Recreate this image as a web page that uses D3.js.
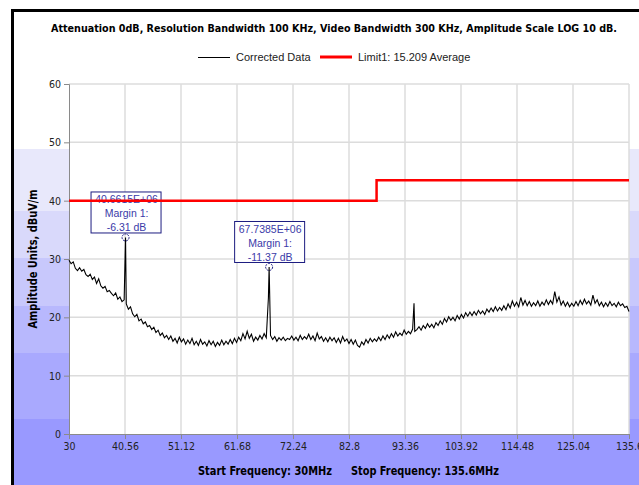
<!DOCTYPE html>
<html>
<head>
<meta charset="utf-8">
<script src="https://cdn.jsdelivr.net/npm/d3@7"></script>
<style>
  body { margin: 0; background: #fff; }
  svg { display: block; }
  .tick text { font-family: "DejaVu Sans Condensed", "DejaVu Sans", sans-serif; font-size: 10.5px; fill: #222; }
</style>
</head>
<body>
<div id="chart"></div>
<script>
// sweep settings and trace (dBuV/m), one value every 0.4 MHz from 30 to 135.6 MHz
const startFreq = 30
const stopFreq = 135.6
const sweepStep = 0.4
const correctedData = [
  29.8, 29.2, 29.5, 28.4, 28.0, 28.5, 27.9, 28.2, 27.3, 27.0,
  27.4, 26.5, 26.9, 25.8, 26.6, 25.4, 25.0, 25.3, 24.4, 24.6,
  24.1, 23.7, 24.2, 23.1, 23.5, 22.7, 23.0, 22.3, 21.4, 21.8,
  20.6, 20.1, 20.5, 19.4, 19.7, 18.9, 19.2, 18.4, 18.6, 17.9,
  18.3, 17.4, 17.8, 16.9, 17.3, 16.5, 16.9, 16.2, 16.8, 15.9,
  16.4, 15.6, 16.6, 15.8, 16.3, 15.4, 16.1, 15.5, 16.4, 15.3,
  15.9, 15.2, 16.2, 15.4, 15.8, 15.1, 16.0, 15.3, 15.9, 15.0,
  15.7, 15.2, 16.1, 15.3, 15.9, 15.4, 16.2, 15.5, 16.4, 15.7,
  16.6, 16.0, 17.2, 16.3, 17.6, 16.4, 17.1, 15.9, 16.6, 16.1,
  16.9, 16.3, 17.2, 16.5, 23.3, 16.9, 16.2, 16.7, 15.9, 16.5,
  16.1, 16.6, 16.0, 16.4, 16.2, 16.8, 16.1, 16.6, 16.0, 16.9,
  16.2, 16.7, 16.3, 17.1, 16.2, 16.8, 16.0, 17.3, 16.3, 16.7,
  15.9, 16.5, 15.8, 16.6, 16.0, 16.5, 15.7, 16.4, 15.6, 16.7,
  15.9, 16.3, 15.5, 16.2, 15.4, 16.1, 15.2, 14.9, 15.8, 15.3,
  16.2, 15.6, 16.4, 15.8, 16.3, 15.9, 16.6, 16.0, 16.8, 16.2,
  17.0, 16.4, 17.2, 16.6, 17.5, 16.8, 17.3, 16.9, 17.8, 17.1,
  17.6, 17.2, 18.0, 17.6, 17.9, 18.4, 17.8, 18.6, 18.1, 18.9,
  18.3, 18.8, 18.2, 19.1, 18.6, 19.4, 18.8, 19.8, 19.2, 20.1,
  19.5, 20.0, 19.4, 20.3, 19.7, 20.5, 19.9, 20.8, 20.2, 20.9,
  20.3, 21.0, 20.4, 21.2, 20.6, 21.1, 20.5, 21.4, 20.9, 21.6,
  21.0, 21.8, 21.1, 21.7, 21.2, 22.0, 21.3, 22.3, 21.6, 22.8,
  21.9, 22.6, 21.8, 23.4, 22.1, 22.9, 22.0, 22.7, 21.9, 22.5,
  22.0, 22.8, 21.9, 22.6, 22.1, 23.0, 22.2, 22.9, 22.3, 24.4,
  22.6, 23.5, 22.1, 22.8, 21.9, 22.6, 21.8, 22.4, 21.9, 22.7,
  22.0, 22.9, 22.2, 23.1, 22.3, 22.8, 22.1, 23.8, 22.4, 23.0,
  22.0, 22.6, 21.8, 22.5, 21.9, 22.7, 22.0, 22.4, 21.8, 22.6,
  22.0, 22.3, 21.7, 21.9, 21.0
]

// narrow emissions caught between sweep points
const peakFreqs = [40.6615, 67.7385, 95.06]
const peakAmps = [33.69, 28.63, 22.4]

// markers with their margin to limit 1
const markerFreqs = [40.6615, 67.7385]
const markerAmps = [33.69, 28.63]
const markerLabels = ["40.6615E+06", "67.7385E+06"]
const markerMargins = ["-6.31 dB", "-11.37 dB"]

// limit 1 (average), steps up at 88 MHz
const limitFreqs = [30, 88, 88, 135.6]
const limitAmps = [40, 40, 43.5, 43.5]

const xTicks = [30, 40.56, 51.12, 61.68, 72.24, 82.8, 93.36, 103.92, 114.48, 125.04, 135.6]
const yTicks = [0, 10, 20, 30, 40, 50, 60]

const W = 639, H = 485
const margin = { top: 84, right: 10, bottom: 51, left: 69 }

const svg = d3.select("#chart").append("svg")
  .attr("width", W)
  .attr("height", H)

// banded blue background inside the frame
const bands = [
  [12, "#ffffff"], [149, "#e8e8fb"], [211, "#d9d9fb"], [258, "#c8c8fc"],
  [306, "#b8b8fd"], [353, "#a9a9fe"], [419, "#9999ff"]
]
bands.forEach((b, i) => {
  const y1 = i < bands.length - 1 ? bands[i + 1][0] : H
  svg.append("rect")
    .attr("x", 12).attr("y", b[0])
    .attr("width", W - 12).attr("height", y1 - b[0])
    .attr("fill", b[1])
})
// frame
svg.append("path")
  .attr("d", `M12.5,${H} V10.5 H${W}`)
  .attr("fill", "none")
  .attr("stroke", "#000")
  .attr("stroke-width", 3)

const x = d3.scaleLinear().domain([startFreq, stopFreq]).range([margin.left, W - margin.right])
const y = d3.scaleLinear().domain([0, 60]).range([H - margin.bottom, margin.top])

svg.append("rect")
  .attr("x", x(startFreq)).attr("y", y(60))
  .attr("width", x(stopFreq) - x(startFreq))
  .attr("height", y(0) - y(60))
  .attr("fill", "#fff")

// grid
svg.append("g")
  .selectAll("line")
  .data(yTicks.slice(1))
  .join("line")
  .attr("x1", x(startFreq)).attr("x2", x(stopFreq))
  .attr("y1", d => y(d)).attr("y2", d => y(d))
  .attr("stroke", "#dcdcdc").attr("stroke-width", 1.5)
svg.append("g")
  .selectAll("line")
  .data(xTicks.slice(1))
  .join("line")
  .attr("x1", d => x(d)).attr("x2", d => x(d))
  .attr("y1", y(0)).attr("y2", y(60))
  .attr("stroke", "#dcdcdc").attr("stroke-width", 1.5)

// axes
svg.append("g")
  .attr("transform", `translate(0,${y(0)})`)
  .call(d3.axisBottom(x).tickValues(xTicks).tickSize(5).tickPadding(4).tickFormat(d => String(d)))
  .call(g => g.selectAll(".domain, .tick line").attr("stroke", "#8a8a8a"))

svg.append("g")
  .attr("transform", `translate(${x(startFreq)},0)`)
  .call(d3.axisLeft(y).tickValues(yTicks).tickSize(5).tickPadding(3))
  .call(g => g.selectAll(".domain, .tick line").attr("stroke", "#8a8a8a"))

// marker boxes
const boxW = 70, boxH = 41
const markers = svg.append("g")
markerFreqs.forEach((f, i) => {
  markers.append("rect")
    .attr("x", x(f) - boxW / 2 + 0.5)
    .attr("y", y(markerAmps[i]) - 5 - boxH + 0.5)
    .attr("width", boxW).attr("height", boxH)
    .attr("fill", "#fff")
    .attr("stroke", "#1c1c80")
})

// limit line
const line = d3.line().x(d => x(d[0])).y(d => y(d[1]))
svg.append("path")
  .datum(limitFreqs.map((f, i) => [f, limitAmps[i]]))
  .attr("d", line)
  .attr("fill", "none")
  .attr("stroke", "#ff0000")
  .attr("stroke-width", 2.5)

// trace: sweep points plus the narrow peaks
const trace = correctedData.map((v, i) => [startFreq + i * sweepStep, v])
  .concat(peakFreqs.map((f, i) => [f, peakAmps[i]]))
  .sort((a, b) => a[0] - b[0])

svg.append("path")
  .datum(trace)
  .attr("d", line)
  .attr("fill", "none")
  .attr("stroke", "#000")
  .attr("stroke-width", 1.1)

// marker text and circles
markerFreqs.forEach((f, i) => {
  const cx = x(f), cy = y(markerAmps[i])
  markers.append("circle")
    .attr("cx", cx).attr("cy", cy).attr("r", 3.5)
    .attr("fill", "none")
    .attr("stroke", "#1c1c80")
    .attr("stroke-dasharray", "2,1")
  const top = cy - 5 - boxH
  ;[markerLabels[i], "Margin 1:", markerMargins[i]].forEach((t, k) => {
    markers.append("text")
      .attr("x", cx + 1).attr("y", top + 12 + k * 14)
      .attr("text-anchor", "middle")
      .style("font-family", "'Liberation Sans', Arial, sans-serif")
      .style("font-size", "10.5px")
      .style("fill", "#3a3aa8")
      .text(t)
  })
})

// title
svg.append("text")
  .attr("x", 51).attr("y", 32)
  .attr("textLength", 566)
  .attr("lengthAdjust", "spacingAndGlyphs")
  .style("font-family", "'DejaVu Sans Condensed', 'DejaVu Sans', sans-serif")
  .style("font-weight", "bold")
  .style("font-size", "11px")
  .text("Attenuation 0dB, Resolution Bandwidth 100 KHz, Video Bandwidth 300 KHz, Amplitude Scale LOG 10 dB.")

// legend
const legend = svg.append("g").style("font-family", "'Liberation Sans', Arial, sans-serif").style("font-size", "11px")
legend.append("line").attr("x1", 198).attr("x2", 230).attr("y1", 57.5).attr("y2", 57.5).attr("stroke", "#000")
legend.append("text").attr("x", 236).attr("y", 61).attr("fill", "#222").text("Corrected Data")
legend.append("line").attr("x1", 320).attr("x2", 352).attr("y1", 57).attr("y2", 57).attr("stroke", "#ff0000").attr("stroke-width", 3)
legend.append("text").attr("x", 358).attr("y", 61).attr("fill", "#222").text("Limit1: 15.209 Average")

// axis titles
svg.append("text")
  .attr("transform", `translate(37,${(y(0) + y(60)) / 2}) rotate(-90)`)
  .attr("text-anchor", "middle")
  .attr("textLength", 139)
  .attr("lengthAdjust", "spacingAndGlyphs")
  .style("font-family", "'DejaVu Sans Condensed', 'DejaVu Sans', sans-serif")
  .style("font-weight", "bold")
  .style("font-size", "11.5px")
  .text("Amplitude Units, dBuV/m")

const xTitle = svg.append("g")
  .style("font-family", "'DejaVu Sans Condensed', 'DejaVu Sans', sans-serif")
  .style("font-weight", "bold")
  .style("font-size", "11.5px")
xTitle.append("text").attr("x", 198).attr("y", 475)
  .attr("textLength", 134).attr("lengthAdjust", "spacingAndGlyphs")
  .text("Start Frequency: 30MHz")
xTitle.append("text").attr("x", 351).attr("y", 475)
  .attr("textLength", 148).attr("lengthAdjust", "spacingAndGlyphs")
  .text("Stop Frequency: 135.6MHz")
</script>
</body>
</html>
